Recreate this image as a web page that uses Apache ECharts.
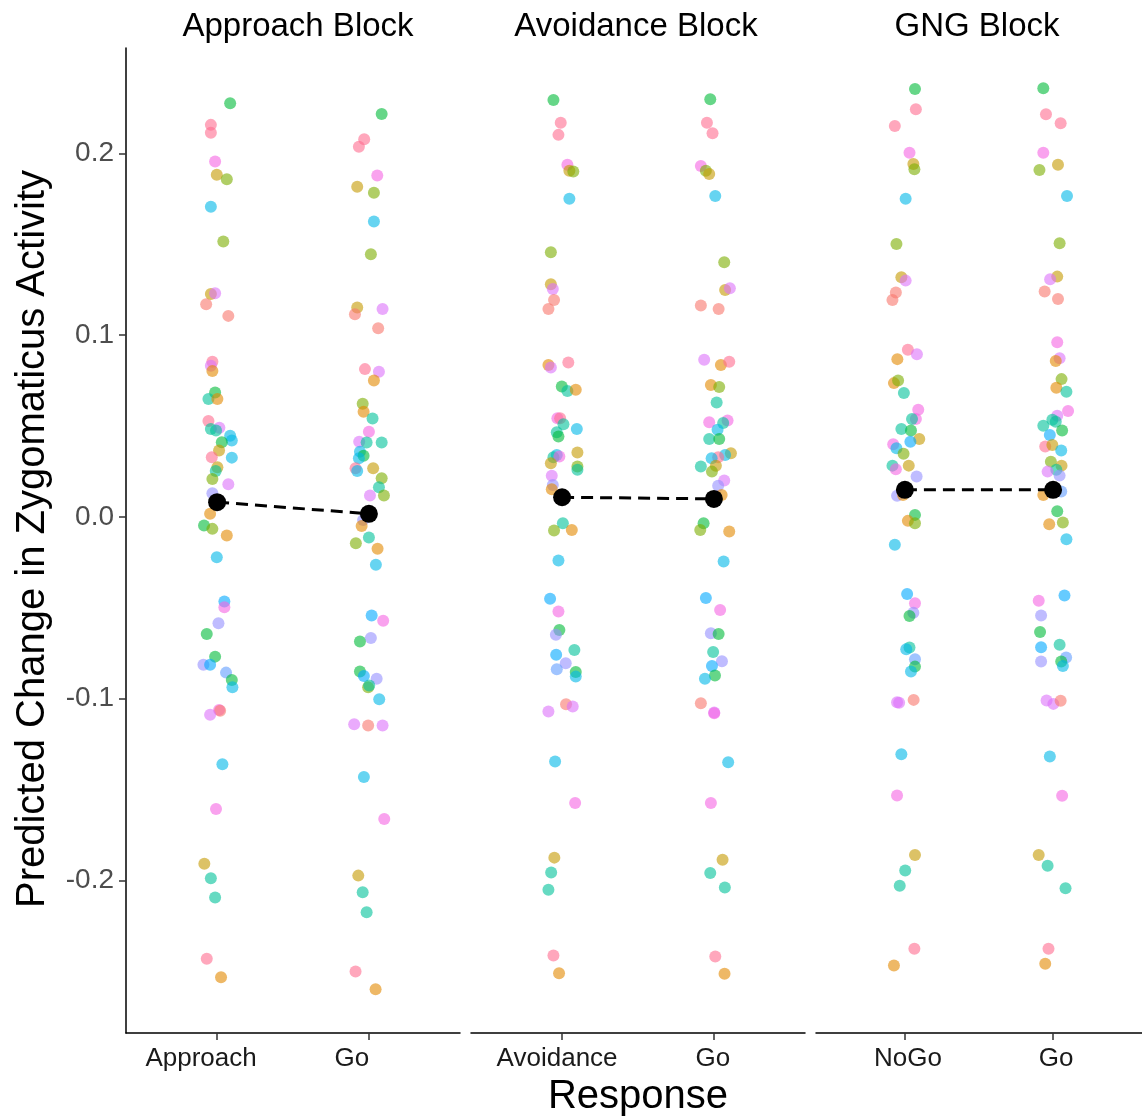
<!DOCTYPE html>
<html>
<head>
<meta charset="utf-8">
<script src="https://cdn.jsdelivr.net/npm/echarts@6/dist/echarts.min.js"></script>
<style>
  html, body { margin: 0; padding: 0; background: #fff; }
  #main { width: 1142px; height: 1118px; }
</style>
</head>
<body>
<div id="main"></div>
<script>
// facet names, responses, tick values
var blocks = ['Approach Block', 'Avoidance Block', 'GNG Block'];
var responses = [['Approach', 'Go'], ['Avoidance', 'Go'], ['NoGo', 'Go']];
var yTicks = [-0.2, -0.1, 0, 0.1, 0.2];

// mean per response (black points)
var means = [[0.0081, 0.0017], [0.0108, 0.0099], [0.0149, 0.0149]];

// participant colours (ggplot hue style)
var palette = {
  sa: '#F8766D', or: '#E38900', ol: '#C49A00', yg: '#7CAE00', gr: '#00BA38',
  te: '#00C19A', cy: '#00B8E7', bl: '#00A9FF', lb: '#619CFF', la: '#9590FF',
  vi: '#DC71FA', ma: '#F564E3', pk: '#FF6C90'
};

// [jitter, predicted change, colour]
var approachApproach = [
  [0.086,0.2276,'gr'],[-0.041,0.2157,'pk'],[-0.041,0.2114,'pk'],[-0.013,0.1955,'ma'],[-0.002,0.1882,'ol'],
  [0.064,0.1858,'yg'],[-0.041,0.1707,'cy'],[0.041,0.1515,'yg'],[-0.041,0.1227,'ol'],[-0.013,0.1231,'vi'],
  [-0.072,0.1170,'sa'],[0.074,0.1106,'sa'],[-0.031,0.0854,'pk'],[-0.041,0.0831,'vi'],[-0.031,0.0803,'or'],
  [-0.013,0.0684,'gr'],[-0.057,0.0648,'te'],[0.002,0.0648,'or'],[-0.057,0.0528,'pk'],[-0.041,0.0483,'te'],
  [0.015,0.0491,'vi'],[-0.007,0.0475,'te'],[0.086,0.0446,'cy'],[0.097,0.0420,'cy'],[0.031,0.0411,'gr'],
  [0.013,0.0365,'ol'],[-0.035,0.0328,'pk'],[0.097,0.0326,'cy'],[0.002,0.0273,'ol'],[-0.009,0.0253,'te'],
  [-0.031,0.0209,'yg'],[0.074,0.0180,'vi'],[-0.031,0.0130,'la'],[-0.046,0.0017,'or'],[-0.086,-0.0048,'gr'],
  [-0.031,-0.0066,'yg'],[0.064,-0.0103,'or'],[-0.002,-0.0222,'cy'],[0.048,-0.0466,'bl'],[0.048,-0.0497,'ma'],
  [0.009,-0.0585,'la'],[-0.068,-0.0644,'gr'],[-0.013,-0.0769,'gr'],[-0.090,-0.0814,'la'],[-0.046,-0.0814,'bl'],
  [0.059,-0.0857,'lb'],[0.097,-0.0897,'gr'],[0.101,-0.0937,'cy'],[0.013,-0.1062,'ma'],[0.020,-0.1067,'sa'],
  [-0.046,-0.1089,'vi'],[0.035,-0.1361,'cy'],[-0.007,-0.1608,'ma'],[-0.084,-0.1909,'ol'],[-0.041,-0.1988,'te'],
  [-0.013,-0.2095,'te'],[-0.068,-0.2432,'pk'],[0.026,-0.2533,'or']
];
var approachGo = [
  [0.084,0.2217,'gr'],[-0.031,0.2078,'pk'],[-0.066,0.2037,'pk'],[0.055,0.1878,'ma'],[-0.077,0.1817,'ol'],
  [0.033,0.1784,'yg'],[0.033,0.1625,'cy'],[0.013,0.1445,'yg'],[-0.077,0.1152,'ol'],[-0.092,0.1115,'sa'],
  [0.090,0.1144,'vi'],[0.061,0.1038,'sa'],[-0.026,0.0813,'pk'],[0.066,0.0798,'vi'],[0.033,0.0750,'or'],
  [-0.041,0.0622,'yg'],[-0.035,0.0578,'or'],[0.024,0.0541,'te'],[0.000,0.0468,'ma'],[-0.064,0.0414,'vi'],
  [-0.015,0.0409,'te'],[0.084,0.0409,'te'],[-0.059,0.0359,'cy'],[-0.035,0.0336,'gr'],[-0.066,0.0323,'cy'],
  [-0.088,0.0268,'pk'],[-0.077,0.0253,'cy'],[0.028,0.0268,'ol'],[0.084,0.0213,'yg'],[0.066,0.0163,'te'],
  [0.099,0.0117,'yg'],[0.007,0.0117,'vi'],[-0.038,-0.0017,'la'],[-0.048,-0.0050,'or'],[-0.086,-0.0145,'yg'],
  [0.000,-0.0114,'te'],[0.057,-0.0176,'or'],[0.046,-0.0264,'cy'],[0.018,-0.0543,'bl'],[0.094,-0.0571,'ma'],
  [0.013,-0.0667,'la'],[-0.059,-0.0686,'gr'],[-0.059,-0.0851,'gr'],[-0.033,-0.0875,'bl'],[0.051,-0.0891,'la'],
  [-0.005,-0.0937,'yg'],[0.002,-0.0928,'te'],[0.068,-0.1003,'cy'],[-0.097,-0.1141,'vi'],[-0.005,-0.1148,'sa'],
  [0.090,-0.1148,'vi'],[-0.033,-0.1431,'cy'],[0.101,-0.1662,'ma'],[-0.070,-0.1974,'ol'],[-0.041,-0.2065,'te'],
  [-0.015,-0.2175,'te'],[-0.088,-0.2502,'pk'],[0.044,-0.2599,'or']
];
var avoidanceAvoid = [
  [-0.057,0.2294,'gr'],[-0.009,0.2169,'pk'],[-0.024,0.2102,'pk'],[0.035,0.1937,'ma'],[0.048,0.1905,'ol'],
  [0.074,0.1900,'yg'],[0.048,0.1750,'cy'],[-0.074,0.1456,'yg'],[-0.074,0.1280,'ol'],[-0.061,0.1254,'vi'],
  [-0.053,0.1194,'sa'],[-0.090,0.1144,'sa'],[-0.090,0.0836,'or'],[-0.074,0.0822,'vi'],[0.041,0.0849,'pk'],
  [-0.002,0.0717,'gr'],[0.035,0.0693,'te'],[0.090,0.0699,'or'],[-0.031,0.0543,'ma'],[-0.013,0.0543,'pk'],
  [0.009,0.0510,'te'],[0.097,0.0483,'cy'],[-0.035,0.0466,'te'],[-0.024,0.0442,'gr'],[0.101,0.0354,'ol'],
  [-0.035,0.0341,'cy'],[-0.057,0.0328,'te'],[-0.018,0.0332,'ma'],[-0.074,0.0295,'ol'],[0.101,0.0277,'yg'],
  [0.101,0.0259,'te'],[-0.068,0.0226,'vi'],[-0.061,0.0176,'la'],[-0.068,0.0152,'or'],[0.005,-0.0035,'te'],
  [-0.053,-0.0075,'yg'],[0.064,-0.0072,'or'],[-0.024,-0.0240,'cy'],[-0.079,-0.0451,'bl'],[-0.024,-0.0521,'ma'],
  [-0.018,-0.0622,'gr'],[-0.041,-0.0649,'la'],[-0.039,-0.0759,'bl'],[0.081,-0.0732,'te'],[0.024,-0.0805,'la'],
  [-0.035,-0.0838,'lb'],[0.090,-0.0854,'gr'],[0.090,-0.0879,'cy'],[0.026,-0.1031,'sa'],[0.070,-0.1044,'vi'],
  [-0.090,-0.1071,'vi'],[-0.046,-0.1346,'cy'],[0.086,-0.1575,'ma'],[-0.051,-0.1875,'ol'],[-0.072,-0.1957,'te'],
  [-0.090,-0.2052,'te'],[-0.057,-0.2414,'pk'],[-0.020,-0.2511,'or']
];
var avoidanceGo = [
  [-0.024,0.2298,'gr'],[-0.046,0.2169,'pk'],[-0.009,0.2111,'pk'],[-0.086,0.1931,'ma'],[-0.053,0.1905,'yg'],
  [-0.031,0.1887,'ol'],[0.009,0.1766,'cy'],[0.068,0.1401,'yg'],[0.074,0.1249,'ol'],[0.105,0.1258,'vi'],
  [-0.086,0.1163,'sa'],[0.031,0.1144,'sa'],[-0.064,0.0864,'vi'],[0.046,0.0836,'or'],[0.101,0.0854,'pk'],
  [-0.020,0.0726,'or'],[0.035,0.0714,'yg'],[0.018,0.0629,'te'],[-0.031,0.0521,'ma'],[0.090,0.0530,'ma'],
  [0.061,0.0516,'te'],[0.024,0.0479,'cy'],[-0.031,0.0428,'te'],[0.035,0.0428,'gr'],[0.112,0.0350,'ol'],
  [0.074,0.0341,'cy'],[0.028,0.0328,'pk'],[-0.015,0.0323,'cy'],[-0.086,0.0277,'te'],[0.013,0.0281,'ol'],
  [-0.013,0.0249,'yg'],[0.068,0.0200,'vi'],[0.028,0.0171,'la'],[0.051,0.0121,'or'],[-0.068,-0.0035,'gr'],
  [-0.090,-0.0072,'yg'],[0.101,-0.0081,'or'],[0.064,-0.0246,'cy'],[-0.053,-0.0446,'bl'],[0.041,-0.0512,'ma'],
  [-0.020,-0.0640,'la'],[0.031,-0.0644,'gr'],[-0.005,-0.0744,'te'],[0.053,-0.0794,'la'],[-0.013,-0.0820,'bl'],
  [0.007,-0.0873,'gr'],[-0.059,-0.0891,'cy'],[-0.086,-0.1025,'sa'],[0.002,-0.1077,'vi'],[0.002,-0.1080,'ma'],
  [0.094,-0.1350,'cy'],[-0.020,-0.1575,'ma'],[0.057,-0.1887,'ol'],[-0.024,-0.1960,'te'],[0.072,-0.2040,'te'],
  [0.009,-0.2419,'pk'],[0.070,-0.2514,'or']
];
var gngNoGo = [
  [0.068,0.2355,'gr'],[0.074,0.2243,'pk'],[-0.068,0.2151,'pk'],[0.031,0.2004,'ma'],[0.057,0.1942,'ol'],
  [0.064,0.1913,'yg'],[0.005,0.1750,'cy'],[-0.057,0.1502,'yg'],[-0.024,0.1319,'ol'],[0.005,0.1300,'vi'],
  [-0.061,0.1234,'sa'],[-0.084,0.1194,'sa'],[0.020,0.0919,'pk'],[0.081,0.0895,'vi'],[-0.051,0.0868,'or'],
  [-0.074,0.0736,'or'],[-0.046,0.0750,'yg'],[-0.007,0.0681,'te'],[0.090,0.0589,'ma'],[0.074,0.0539,'ma'],
  [0.048,0.0538,'te'],[-0.024,0.0483,'te'],[0.041,0.0475,'gr'],[0.097,0.0428,'ol'],[0.037,0.0414,'bl'],
  [-0.079,0.0400,'ma'],[-0.057,0.0378,'cy'],[-0.009,0.0347,'yg'],[-0.084,0.0282,'te'],[-0.061,0.0262,'ma'],
  [0.026,0.0282,'ol'],[0.079,0.0222,'la'],[-0.053,0.0116,'la'],[-0.013,0.0121,'or'],[0.068,0.0011,'gr'],
  [0.020,-0.0022,'or'],[0.068,-0.0035,'yg'],[-0.068,-0.0154,'cy'],[0.015,-0.0424,'bl'],[0.068,-0.0475,'ma'],
  [0.057,-0.0527,'la'],[0.031,-0.0545,'gr'],[0.031,-0.0719,'te'],[0.009,-0.0728,'cy'],[0.068,-0.0783,'lb'],
  [0.068,-0.0824,'gr'],[0.041,-0.0851,'cy'],[-0.053,-0.1020,'vi'],[-0.039,-0.1023,'vi'],[0.059,-0.1007,'sa'],
  [-0.024,-0.1306,'cy'],[-0.053,-0.1533,'ma'],[0.068,-0.1860,'ol'],[0.002,-0.1946,'te'],[-0.035,-0.2030,'te'],
  [0.064,-0.2377,'pk'],[-0.074,-0.2469,'or']
];
var gngGo = [
  [-0.066,0.2359,'gr'],[-0.048,0.2216,'pk'],[0.051,0.2166,'pk'],[-0.066,0.2004,'ma'],[-0.092,0.1909,'yg'],
  [0.033,0.1937,'ol'],[0.094,0.1766,'cy'],[0.044,0.1506,'yg'],[0.028,0.1322,'ol'],[-0.020,0.1308,'vi'],
  [-0.057,0.1240,'sa'],[0.033,0.1199,'sa'],[0.028,0.0961,'ma'],[0.044,0.0873,'vi'],[0.018,0.0858,'or'],
  [0.057,0.0758,'yg'],[0.022,0.0711,'or'],[0.090,0.0689,'te'],[0.101,0.0583,'ma'],[0.028,0.0556,'vi'],
  [-0.005,0.0534,'te'],[-0.066,0.0501,'te'],[0.018,0.0524,'te'],[0.061,0.0475,'gr'],[-0.022,0.0451,'bl'],
  [-0.053,0.0387,'pk'],[-0.005,0.0396,'ol'],[0.055,0.0365,'cy'],[-0.015,0.0304,'yg'],[0.057,0.0282,'ol'],
  [0.022,0.0259,'te'],[-0.037,0.0249,'vi'],[0.044,0.0227,'la'],[-0.066,0.0121,'or'],[0.055,0.0139,'lb'],
  [0.028,0.0031,'gr'],[-0.026,-0.0040,'or'],[0.066,-0.0031,'yg'],[0.090,-0.0123,'cy'],[0.077,-0.0433,'bl'],
  [-0.097,-0.0461,'ma'],[-0.081,-0.0543,'la'],[-0.088,-0.0634,'gr'],[-0.081,-0.0717,'bl'],[0.044,-0.0704,'te'],
  [-0.081,-0.0796,'la'],[0.088,-0.0774,'lb'],[0.055,-0.0796,'gr'],[0.066,-0.0820,'cy'],[-0.044,-0.1011,'vi'],
  [0.002,-0.1029,'vi'],[0.051,-0.1012,'sa'],[-0.022,-0.1319,'cy'],[0.061,-0.1535,'ma'],[-0.097,-0.1860,'ol'],
  [-0.037,-0.1920,'te'],[0.084,-0.2043,'te'],[-0.031,-0.2377,'pk'],[-0.053,-0.2459,'or']
];
var columns = [[approachApproach, approachGo], [avoidanceAvoid, avoidanceGo], [gngNoGo, gngGo]];

var chart = echarts.init(document.getElementById('main'), null, { renderer: 'canvas' });

var fontFam = '"Liberation Sans", Arial, sans-serif';
var panelLeft = [126, 471, 816];
var panelW = 334;
var titleX = [298, 636, 977];
// small horizontal nudges of the response labels, as placed in the original figure
var labelNudge = [[-16, -17], [-5, -1], [3, 3]];
var plotTop = 48, plotH = 985;
var yMin = -0.284, yMax = 0.258;

var grids = [], xAxes = [], yAxes = [], series = [], graphics = [];

panelLeft.forEach(function (left, b) {
  grids.push({ left: left, top: plotTop, width: panelW, height: plotH });
  var rich = {};
  labelNudge[b].forEach(function (n, i) {
    rich['l' + i] = {
      fontSize: 26, color: '#1a1a1a', fontFamily: fontFam,
      padding: n < 0 ? [0, -2 * n, 0, 0] : [0, 0, 0, 2 * n]
    };
  });
  xAxes.push({
    type: 'value', gridIndex: b, min: 0.4, max: 2.6,
    splitLine: { show: false },
    axisLine: { show: true, onZero: false, lineStyle: { color: '#000', width: 1.5 } },
    axisTick: { show: true, length: 7, customValues: [1, 2], lineStyle: { color: '#333', width: 1.5 } },
    axisLabel: {
      customValues: [1, 2], margin: 13, fontSize: 26, color: '#1a1a1a', fontFamily: fontFam,
      rich: rich,
      formatter: function (v) {
        var i = Math.round(v) - 1;
        return '{l' + i + '|' + responses[b][i] + '}';
      }
    }
  });
  yAxes.push({
    type: 'value', gridIndex: b, min: yMin, max: yMax,
    show: b === 0,
    splitLine: { show: false },
    axisLine: { show: true, onZero: false, lineStyle: { color: '#000', width: 1.5 } },
    axisTick: { show: true, length: 7, customValues: yTicks, lineStyle: { color: '#333', width: 1.5 } },
    axisLabel: {
      customValues: yTicks, margin: 12, fontSize: 28, color: '#4d4d4d', fontFamily: fontFam,
      formatter: function (v) { return v.toFixed(1); }
    }
  });

  columns[b].forEach(function (col, c) {
    series.push({
      type: 'scatter', xAxisIndex: b, yAxisIndex: b,
      symbolSize: 12,
      data: col.map(function (p) { return [c + 1 + p[0], p[1], p[2]]; }),
      itemStyle: {
        opacity: 0.6,
        color: function (params) { return palette[params.data[2]]; }
      },
      z: 2
    });
  });

  series.push({
    type: 'line', xAxisIndex: b, yAxisIndex: b,
    data: [[1, means[b][0]], [2, means[b][1]]],
    symbol: 'circle', symbolSize: 18,
    itemStyle: { color: '#000' },
    lineStyle: { color: '#000', width: 3, type: [12, 7] },
    z: 5
  });

  graphics.push({
    type: 'text', x: titleX[b], y: 27,
    style: {
      text: blocks[b], fill: '#000', font: '33px ' + fontFam,
      textAlign: 'center', textVerticalAlign: 'middle'
    }
  });
});

graphics.push({
  type: 'text', x: 638, y: 1097,
  style: { text: 'Response', fill: '#000', font: '40px ' + fontFam, textAlign: 'center', textVerticalAlign: 'middle' }
});
graphics.push({
  type: 'text', x: 33, y: 539, rotation: Math.PI / 2,
  style: {
    text: 'Predicted Change in Zygomaticus Activity', fill: '#000', font: '40px ' + fontFam,
    textAlign: 'center', textVerticalAlign: 'middle'
  }
});

chart.setOption({
  backgroundColor: '#fff',
  animation: false,
  grid: grids,
  xAxis: xAxes,
  yAxis: yAxes,
  series: series,
  graphic: graphics
});
</script>
</body>
</html>
